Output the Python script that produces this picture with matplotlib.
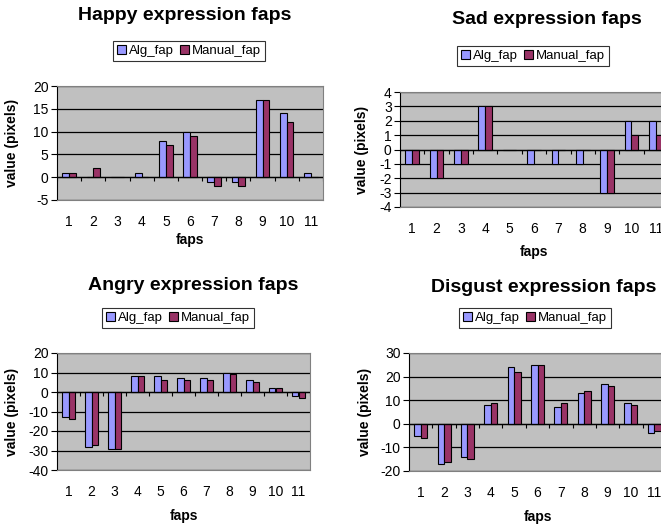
import numpy as np
import matplotlib.pyplot as plt
from matplotlib.patches import Patch

plt.rcParams['font.family'] = ['Liberation Sans', 'DejaVu Sans']
plt.rcParams['axes.unicode_minus'] = False

faps = [1, 2, 3, 4, 5, 6, 7, 8, 9, 10, 11]
series_names = ['Alg_fap', 'Manual_fap']

happy_alg = [1, 0, 0, 1, 8, 10, -1, -1, 17, 14, 1]
happy_manual = [1, 2, 0, 0, 7, 9, -2, -2, 17, 12, 0]

sad_alg = [-1, -2, -1, 3, 0, -1, -1, -1, -3, 2, 2]
sad_manual = [-1, -2, -1, 3, 0, 0, 0, 0, -3, 1, 1]

angry_alg = [-13, -28, -29, 8, 8, 7, 7, 10, 6, 2, -2]
angry_manual = [-14, -27, -29, 8, 6, 6, 6, 9, 5, 2, -3]

disgust_alg = [-5, -17, -14, 8, 24, 25, 7, 13, 17, 9, -4]
disgust_manual = [-6, -16, -15, 9, 22, 25, 9, 14, 16, 8, -3]

W, H = 661, 526
ALG_COLOR = '#9999ff'
MAN_COLOR = '#993366'
FACE = '#c0c0c0'

fig = plt.figure(figsize=(W / 100, H / 100), dpi=100)


def px_rect(x0, y0, x1, y1):
    return [x0 / W, 1 - y1 / H, (x1 - x0) / W, (y1 - y0) / H]


def draw_panel(title, alg, manual, rect, ylim, ystep, title_xy, legend_xy, ylabel_x, xlabel_y):
    x0, y0, x1, y1 = rect
    ax = fig.add_axes(px_rect(x0, y0, x1, y1))
    ax.set_facecolor(FACE)
    x = np.arange(len(faps))
    w = 0.28
    ax.bar(x - w / 2, alg, w, color=ALG_COLOR, edgecolor='black', linewidth=0.8, zorder=3)
    ax.bar(x + w / 2, manual, w, color=MAN_COLOR, edgecolor='black', linewidth=0.8, zorder=3)
    ax.set_xlim(-0.5, len(faps) - 0.5)
    ax.set_ylim(*ylim)
    ax.set_yticks(np.arange(ylim[0], ylim[1] + ystep / 2, ystep))
    ax.yaxis.grid(True, color='black', linewidth=0.9, zorder=1)
    ax.set_axisbelow(True)
    ax.set_xticks(x)
    ax.set_xticklabels([str(f) for f in faps], fontsize=10)
    ax.tick_params(axis='x', length=0, pad=11)
    ax.tick_params(axis='y', length=4, width=0.8, labelsize=10, pad=2)
    for s in ['top', 'right', 'bottom']:
        ax.spines[s].set_color('#808080')
    ax.spines['left'].set_color('black')
    # zero line with category separator ticks
    ax.axhline(0, color='black', linewidth=0.9, zorder=4)
    tick = 0.035 * (ylim[1] - ylim[0])
    ax.vlines(np.arange(len(faps) + 1) - 0.5, -tick, 0, color='black', linewidth=0.8, zorder=4)

    fig.text(title_xy[0] / W, 1 - title_xy[1] / H, title, fontsize=14, fontweight='bold',
             ha='center', va='center')
    ax.set_ylabel('value (pixels)', fontsize=10, fontweight='bold', ha='center', va='center')
    ax.yaxis.set_label_coords((ylabel_x - x0) / (x1 - x0), 0.5)
    ax.set_xlabel('faps', fontsize=10, fontweight='bold', va='center')
    ax.xaxis.set_label_coords(0.5, (y1 - xlabel_y) / (y1 - y0))

    handles = [Patch(facecolor=ALG_COLOR, edgecolor='black', linewidth=0.8),
               Patch(facecolor=MAN_COLOR, edgecolor='black', linewidth=0.8)]
    leg = fig.legend(handles, series_names, loc='center',
                     bbox_to_anchor=(legend_xy[0] / W, 1 - legend_xy[1] / H),
                     ncol=2, fontsize=9.5, frameon=True, fancybox=False,
                     handlelength=0.7, handleheight=0.7, handletextpad=0.2,
                     columnspacing=0.5, borderpad=0.3, borderaxespad=0)
    leg.get_frame().set_edgecolor('black')
    leg.get_frame().set_linewidth(0.8)
    return ax


draw_panel('Happy expression faps', happy_alg, happy_manual,
           (57, 86, 323, 200), (-5, 20), 5, (185, 15), (189, 51), 12, 240)
draw_panel('Sad expression faps', sad_alg, sad_manual,
           (400, 92, 668, 207), (-4, 4), 1, (547, 20), (533, 56), 362, 252)
draw_panel('Angry expression faps', angry_alg, angry_manual,
           (57, 353, 310, 470), (-40, 20), 10, (193, 285), (178, 318), 12, 516)
draw_panel('Disgust expression faps', disgust_alg, disgust_manual,
           (409, 353, 666, 471), (-20, 30), 10, (544, 287), (535, 318), 365, 517)

fig.savefig('out.png', dpi=100)
